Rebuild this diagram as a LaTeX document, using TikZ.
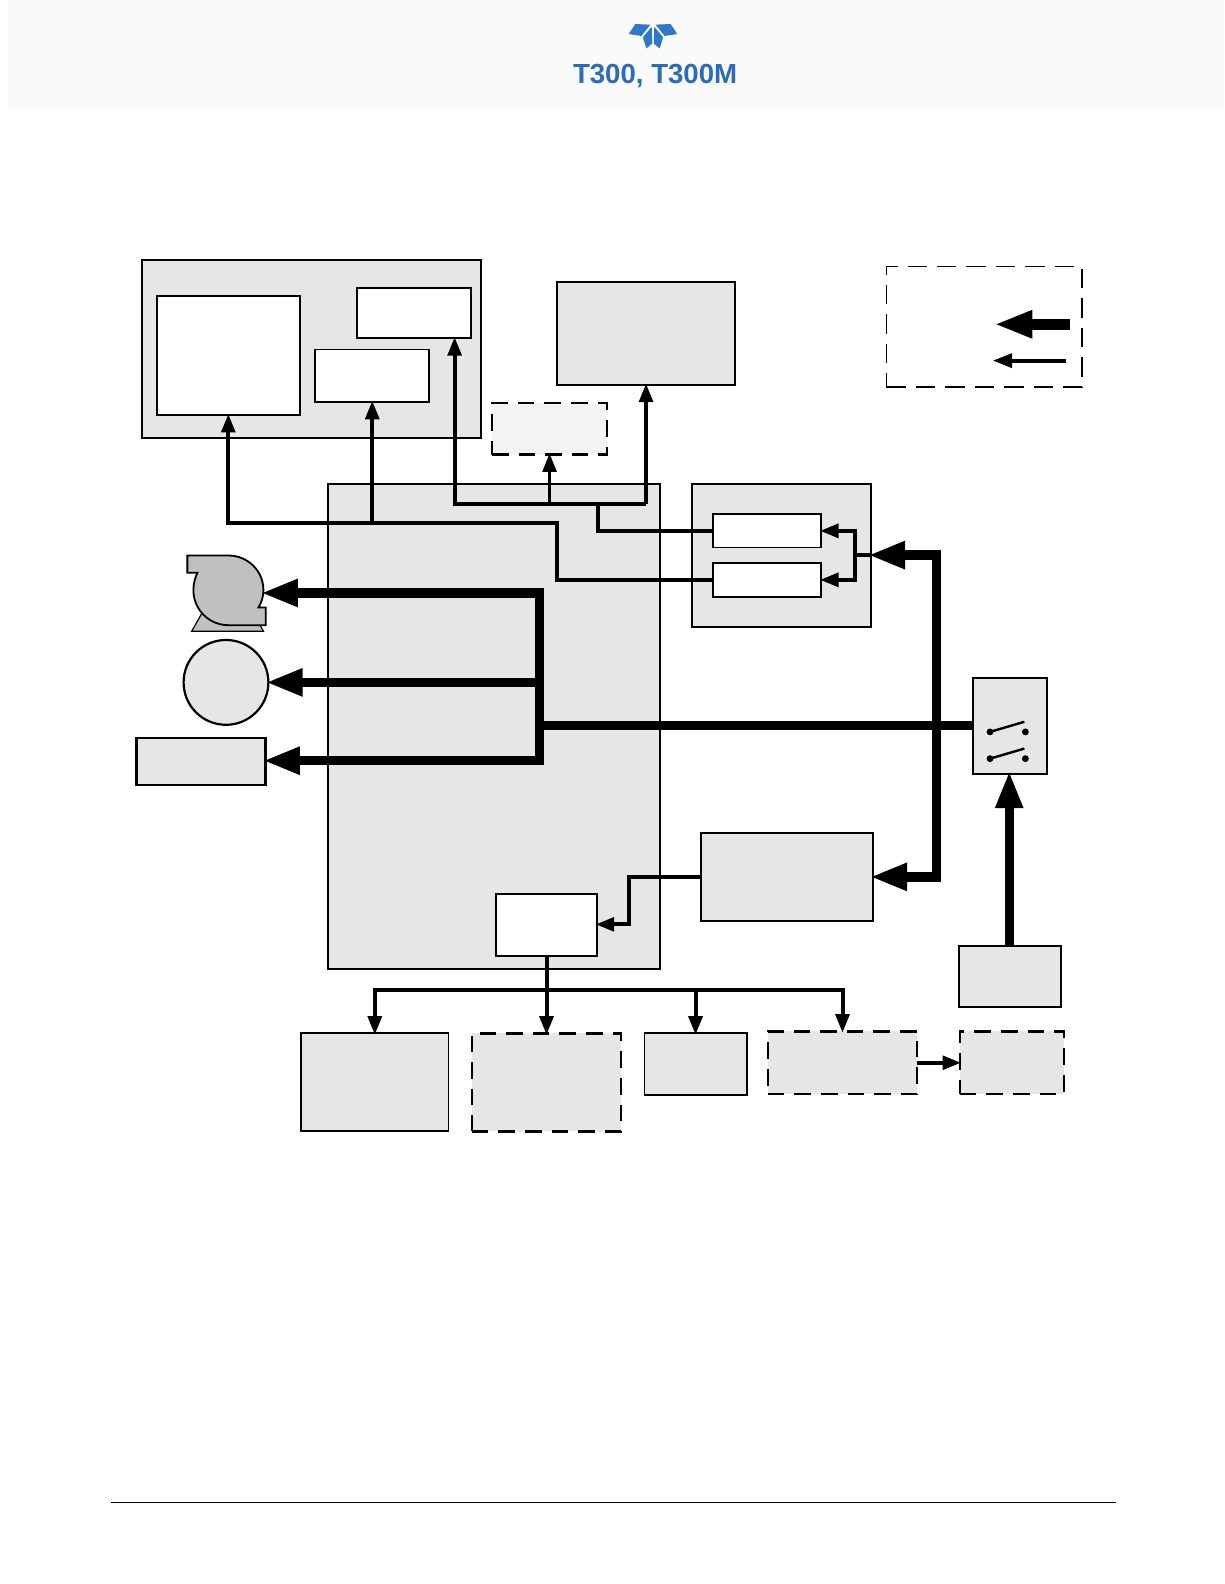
\documentclass[tikz,border=0pt]{standalone}
\usepackage{fontspec}
\setmainfont{Liberation Sans}
\usetikzlibrary{fit,arrows.meta,calc}
\definecolor{boxgray}{HTML}{E6E6E6}
\definecolor{bandgray}{HTML}{FAFAFA}
\definecolor{optgray}{HTML}{F3F3F3}
\definecolor{pumpgray}{HTML}{C0C0C0}
\definecolor{tdblue}{HTML}{2B6CB8}
\definecolor{logoblue}{HTML}{2F78C8}
\tikzset{
  anybox/.style={draw=black,line width=0.95pt,inner sep=0pt,outer sep=0pt,rectangle},
  graybox/.style={anybox,fill=boxgray},
  whitebox/.style={anybox,fill=white},
  dashbox/.style={graybox,line width=1.1pt,dash pattern=on 8.3pt off 5pt},
  thinline/.style={draw=black,line width=2pt,line join=miter},
  thinarrow/.style={thinline,-{Triangle[length=9.3pt,width=6.8pt,sep=-0.7pt]}},
  fatline/.style={draw=black,line width=4.8pt,line join=miter},
  fatarrow/.style={fatline,-{Triangle[length=18.5pt,width=12.8pt,sep=-1.4pt]}},
}
\begin{document}
\begin{tikzpicture}[x=0.50495pt,y=-0.50495pt]
\useasboundingbox (0,0) rectangle (1212,1568);
\fill[white] (0,0) rectangle (1212,1568);
% header band
\fill[bandgray] (8,0) rectangle (1212,110);
\begin{scope}[shift={(646.4,0)},logoblue]
 \fill (-24,33.7) -- (-17.5,23.8) -- (-2.6,24.4) -- (-11.5,35.6) -- cycle;
 \fill (-10,37) -- (-1.3,26.4) -- (-0.7,43) -- (-6.6,48) -- cycle;
 \fill (24,33.7) -- (17.5,23.8) -- (2.6,24.4) -- (11.5,35.6) -- cycle;
 \fill (10,37) -- (1.3,26.4) -- (0.7,43) -- (6.6,48) -- cycle;
\end{scope}
\node[text=tdblue,font=\fontsize{13.8}{16}\selectfont\bfseries,inner sep=0pt] (hdr) at (648.5,75.5) {T300, T300M};
% footer rule
\coordinate (ftL) at (110,1487);
\coordinate (ftR) at (1105,1487);
\draw[black,line width=0.6pt] (ftL) -- (ftR);

% top group
\node[graybox,fit={(140.5,257)(476,433.5)}] (display) {};
\node[whitebox,fit={(155,293)(297,411)}] (dispA) {};
\node[whitebox,fit={(353,285)(466,335)}] (dispB) {};
\node[whitebox,fit={(312,346)(425,398)}] (dispC) {};
\node[graybox,fit={(551,279)(728,381)}] (topbox) {};
\node[anybox,fill=optgray,line width=1.3pt,dash pattern=on 8.3pt off 5pt,fit={(487,399)(601,450)}] (optbox) {};
% legend
\node[anybox,fill=white,line width=0.75pt,dash pattern=on 9.7pt off 5pt,fit={(877.5,264)(1071,383)}] (legend) {};
% main board
\node[graybox,fit={(325,479)(653,959)}] (main) {};
% right group
\node[graybox,fit={(685,479)(862,621)}] (rgroup) {};
\node[whitebox,fit={(706,509)(813,542)}] (rtop) {};
\node[whitebox,fit={(706,557)(813,591)}] (rbot) {};
% left devices
\begin{scope}[shift={(118.82,524.8)},x=0.16667pt,y=-0.16667pt]
 \draw[draw=black,line width=0.6pt,fill=pumpgray] (215,303) -- (245,250) -- (400,250) -- (430,303) -- cycle;
 \draw[black,line width=0.9pt,fill=pumpgray] (202,76) -- (325,76)
   .. controls (383,76) and (430,122) .. (430,180)
   .. controls (430,200) and (424,218) .. (415,232)
   -- (437,232) -- (437,285) -- (325,285)
   .. controls (267,285) and (220,238) .. (220,180)
   .. controls (220,160) and (225,143) .. (232,128)
   -- (202,128) -- cycle;
\end{scope}
\coordinate (pump) at (261,587);
\node[draw=black,line width=1.1pt,fill=boxgray,circle,inner sep=0pt,outer sep=0pt,minimum size=42.4pt] (round) at (223.7,675.5) {};
\node[graybox,line width=1.3pt,fit={(135,730.5)(263,777)}] (leftbox) {};
% switch
\node[graybox,fit={(963,671)(1036,766)}] (switch) {};
\coordinate (s1a) at (980,724.5);
\coordinate (s1b) at (1015,724.5);
\coordinate (s2a) at (980,751);
\coordinate (s2b) at (1015,751);
\fill (s1a) circle (3.4) (s1b) circle (3.4) (s2a) circle (3.4) (s2b) circle (3.4);
\draw[line width=1.2pt] (s1a) -- (1014,714.5);
\draw[line width=1.2pt] (s2a) -- (1014,741);
% supply
\node[graybox,fit={(694,825)(864,912)}] (psu) {};
\node[whitebox,fit={(491,885)(591,946)}] (mcu) {};
\node[graybox,fit={(949,936)(1050,997)}] (inlet) {};
% bottom row
\node[graybox,fit={(298,1023)(444,1120)}] (b1) {};
\node[dashbox,fit={(467,1023)(615,1120)}] (b2) {};
\node[graybox,fit={(638,1023)(739,1084)}] (b3) {};
\node[dashbox,fit={(760,1021)(908,1083)}] (b4) {};
\node[dashbox,fit={(950,1021)(1053,1083)}] (b5) {};

% thin connectors
\coordinate (j1) at (551,517.5);
\coordinate (j2) at (592,499);
\coordinate (busN) at (450,499);
\draw[thinarrow] (rbot.west) -| (j1) -| (dispA.south);
\draw[thinarrow] (dispC.south |- j1) -- (dispC.south);
\draw[thinline] (rtop.west) -| (j2);
\draw[thinarrow] (topbox.south |- j2) -- (busN) -- (busN |- dispB.south);
\draw[thinarrow] (topbox.south |- j2) -- (topbox.south);
\draw[thinarrow,line width=1.7pt] (optbox.south |- j2) -- (optbox.south);
% right group internal
\coordinate (rj) at (846,549.5);
\draw[thinline] (rgroup.east |- rj) -- (rj);
\draw[thinarrow] (rj) |- (rtop.east);
\draw[thinarrow] (rj) |- (rbot.east);
% psu to mcu
\coordinate (pm) at (623,868);
\coordinate (pm2) at (623,915);
\draw[thinarrow] (psu.west |- pm) -- (pm) -- (pm2) -- (mcu.east |- pm2);
% bus bottom
\coordinate (bus) at (541,980);
\draw[thinarrow] (mcu.south) -- (mcu.south |- b2.north);
\draw[thinarrow] (b1.north |- bus) -- (b1.north);
\draw[thinline,line cap=rect] (b1.north |- bus) -- (b4.north |- bus);
\draw[thinarrow] (b3.north |- bus) -- (b3.north);
\draw[thinarrow] (b4.north |- bus) -- (b4.north);
\draw[thinarrow] (b4.east) -- (b5.west);

% fat connectors
\coordinate (mj) at (534,718);
\coordinate (mt) at (534,587);
\coordinate (mb) at (534,753);
\coordinate (rv) at (927,718);
\draw[fatline] (mj) -- (switch.west |- mj);
\draw[fatline,line cap=butt] ($(mt)+(0,-4.75)$) -- ($(mb)+(0,4.75)$);
\draw[fatarrow] ($(mt)+(4.75,0)$) -- (pump);
\draw[fatarrow] (mj |- round.east) -- (round.east);
\draw[fatarrow] (mb) -- (mb -| leftbox.east);
\coordinate (rtopj) at (927,549.5);
\coordinate (rbotj) at (927,868);
\draw[fatarrow] (rbotj) -- (psu.east |- rbotj);
\draw[fatarrow] (rtopj) -- (rgroup.east |- rtopj);
\draw[fatline] ($(rtopj)+(0,-4.75)$) -- ($(rbotj)+(0,4.75)$);
\coordinate (swin) at (999,766);
\draw[fatarrow,line width=4.5pt] (swin |- inlet.north) -- (swin);
% legend keys
\coordinate (lk1a) at (1059,321);
\coordinate (lk1b) at (987,321);
\coordinate (lk2a) at (1055,357);
\coordinate (lk2b) at (984,357);
\draw[fatline,line width=5.5pt,-{Triangle[length=19pt,width=12.8pt,sep=-1.4pt]}] (lk1a) -- (lk1b);
\draw[thinline,-{Triangle[length=9.7pt,width=6.9pt,sep=-0.7pt]}] (lk2a) -- (lk2b);
\end{tikzpicture}
\end{document}
